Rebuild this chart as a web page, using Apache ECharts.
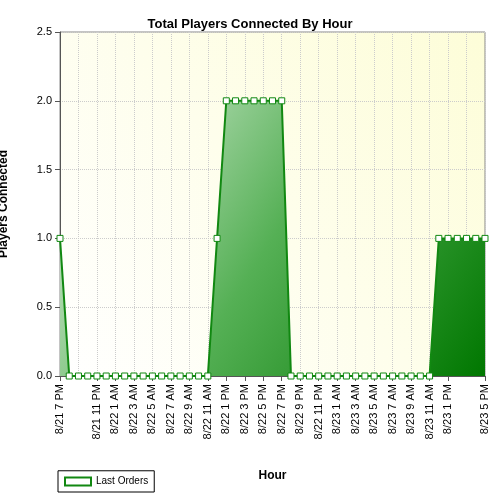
<!DOCTYPE html><html><head><script src="https://cdn.jsdelivr.net/npm/echarts@6/dist/echarts.min.js"></script></head><body style="margin:0"><div id="c" style="width:500px;height:500px"></div><script>
const categories=[];(function(){const d=['8/21','8/22','8/23'];let day=0,h=19;for(let i=0;i<47;i++){const hh=h%12===0?12:h%12;categories.push(d[day]+' '+hh+' '+(h<12?'AM':'PM'));h++;if(h===24){h=0;day++;}}})();
const values=[1,0,0,0,0,0,0,0,0,0,0,0,0,0,0,0,0,1,2,2,2,2,2,2,2,0,0,0,0,0,0,0,0,0,0,0,0,0,0,0,0,1,1,1,1,1,1];
const yTicks=[0,0.5,1,1.5,2,2.5];
const ch=echarts.init(document.getElementById('c'));
ch.setOption({backgroundColor:'#fff',animation:false,
title:{text:'Total Players Connected By Hour',left:'center',top:8,textStyle:{fontSize:13,fontWeight:'bold',fontFamily:'Arial, Liberation Sans',color:'#000'}},
legend:{left:58,bottom:8,itemWidth:26,itemHeight:8,borderColor:'#000',borderWidth:1,padding:[2,6],borderRadius:0,textStyle:{fontSize:10,fontFamily:'Liberation Sans',color:'#000'},data:[{name:'Last Orders',icon:'rect'}]},
grid:{left:60,right:15,top:32,bottom:124,containLabel:false,outerBoundsMode:'none',backgroundColor:{type:'linear',x:0,y:1,x2:1,y2:0,colorStops:[{offset:0,color:'#ffffff'},{offset:1,color:'#fdfdd8'}]},show:true,borderColor:'#888',borderWidth:1},
xAxis:{type:'category',data:categories,boundaryGap:false,name:'Hour',nameLocation:'middle',nameGap:89,nameTextStyle:{fontWeight:'bold',fontSize:12,fontFamily:'Liberation Sans',color:'#000'},axisLabel:{rotate:90,interval:1,showMinLabel:true,showMaxLabel:true,hideOverlap:false,fontSize:11,fontFamily:'Liberation Sans',color:'#000'},axisTick:{interval:1,lineStyle:{color:'#555'}},axisLine:{lineStyle:{color:'#555'}},splitLine:{show:true,interval:1,lineStyle:{type:'dotted',color:'#ccc'}}},
yAxis:{type:'value',min:0,max:2.5,interval:0.5,name:'Players Connected',nameLocation:'middle',nameGap:46,nameTextStyle:{fontWeight:'bold',fontSize:12,fontFamily:'Liberation Sans',color:'#000'},axisLabel:{formatter:v=>v.toFixed(1),fontSize:11,fontFamily:'Liberation Sans',color:'#000'},axisLine:{show:true,lineStyle:{color:'#555'}},axisTick:{show:true},splitLine:{lineStyle:{type:'dotted',color:'#ccc'}}},
series:[{name:'Last Orders',type:'line',data:values,showAllSymbol:true,symbol:'rect',symbolSize:6,itemStyle:{color:'#fff',borderColor:'#118811',borderWidth:1},lineStyle:{color:'#118811',width:2},
areaStyle:{opacity:1,color:{type:'linear',x:0,y:0,x2:1,y2:1,colorStops:[{offset:0,color:'#e6f3e6'},{offset:0.5,color:'#55b055'},{offset:1,color:'#007700'}]}}}]});
</script></body></html>
